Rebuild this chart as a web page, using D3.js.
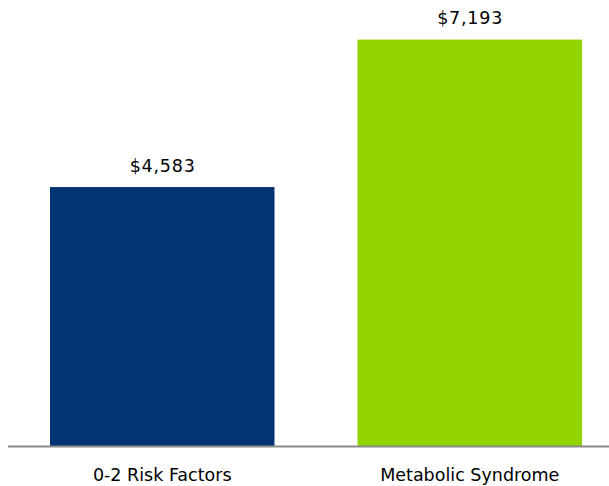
<!DOCTYPE html>
<html>
<head>
    <style>
        body, html {
            margin: 0;
            padding: 0;
            background: #fff;
            overflow: hidden;
        }
        text {
            font-family: Tahoma, "DejaVu Sans", Verdana, sans-serif;
            font-size: 17.5px;
            fill: #000;
        }
        text.value {
            letter-spacing: 0.8px;
        }
    </style>
    <script src="https://d3js.org/d3.v7.min.js"></script>
</head>
<body>

<svg id="chart" width="609" height="486"></svg>

<script>
const categories = ['0-2 Risk Factors', 'Metabolic Syndrome'];
const costs = [4583, 7193];
const colors = ['#003473', '#92d400'];

const svg = d3.select('#chart');
const baseline = 446;

const x = d3.scaleBand()
    .domain(categories)
    .range([8.5, 623.5])
    .paddingInner(0.27)
    .paddingOuter(0.135);

const y = d3.scaleLinear()
    .domain([0, 8000])
    .range([baseline, -6]);

const fmt = d3.format('$,');

svg.selectAll('rect.bar')
    .data(categories)
    .enter().append('rect')
    .attr('class', 'bar')
    .attr('x', d => x(d))
    .attr('width', x.bandwidth())
    .attr('y', (d, i) => y(costs[i]))
    .attr('height', (d, i) => baseline - y(costs[i]))
    .attr('fill', (d, i) => colors[i]);

// axis line
svg.append('line')
    .attr('x1', 8)
    .attr('x2', 609)
    .attr('y1', baseline + 0.5)
    .attr('y2', baseline + 0.5)
    .attr('stroke', '#8c8c8c')
    .attr('stroke-width', 2);

svg.selectAll('text.value')
    .data(categories)
    .enter().append('text')
    .attr('class', 'value')
    .attr('x', d => x(d) + x.bandwidth() / 2 + 0.4)
    .attr('y', (d, i) => y(costs[i]) - 15.5)
    .attr('text-anchor', 'middle')
    .text((d, i) => fmt(costs[i]));

svg.selectAll('text.cat')
    .data(categories)
    .enter().append('text')
    .attr('class', 'cat')
    .attr('x', d => x(d) + x.bandwidth() / 2)
    .attr('y', 481)
    .attr('text-anchor', 'middle')
    .text(d => d);
</script>

</body>
</html>
